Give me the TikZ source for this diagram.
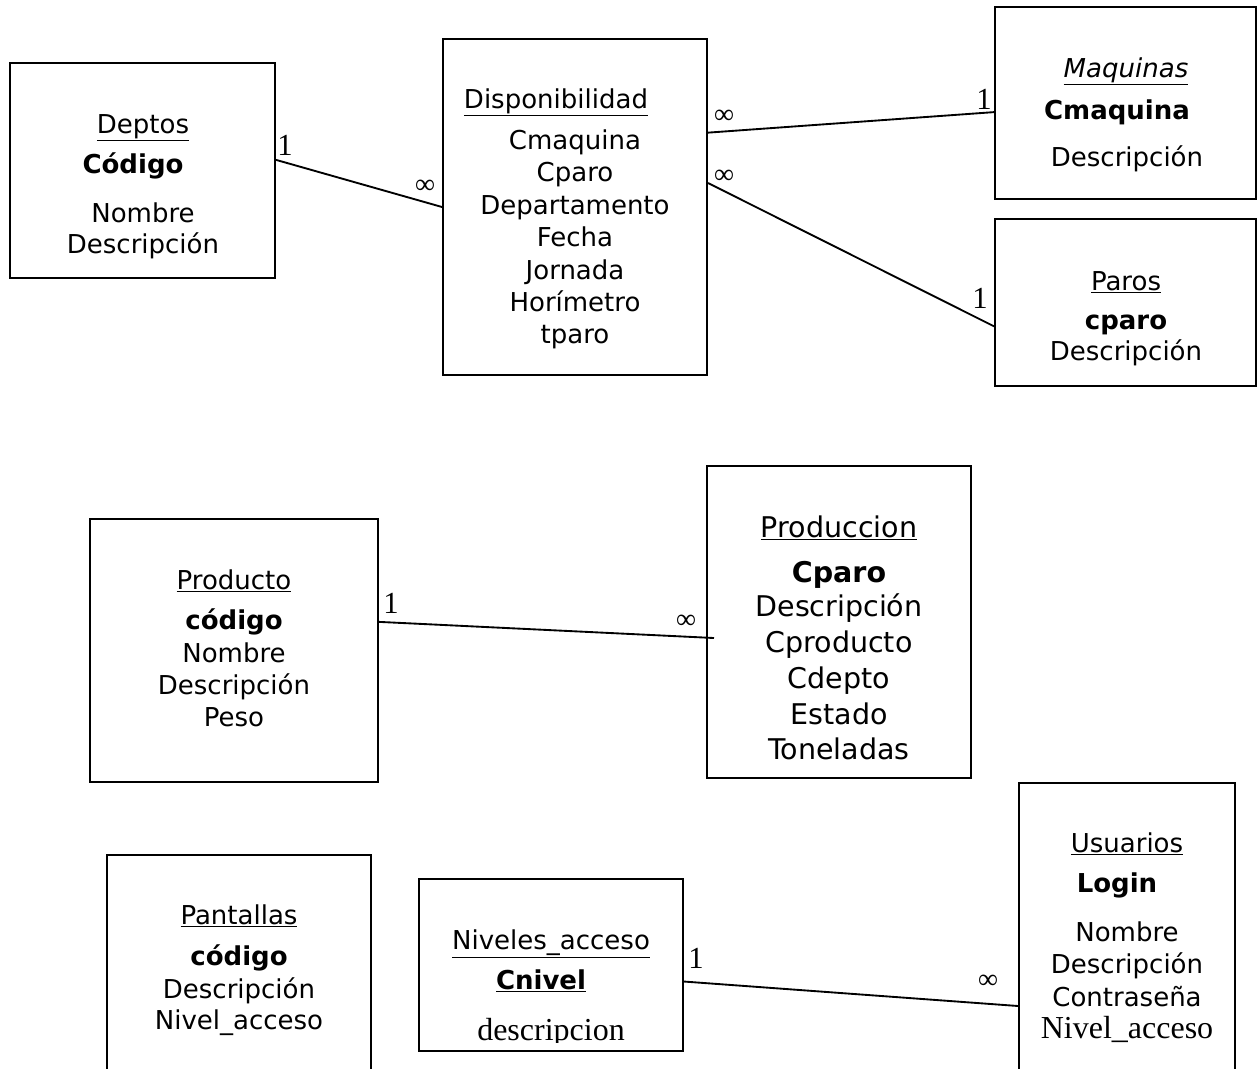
\documentclass[tikz,border=0pt]{standalone}
\usepackage{fontspec}
\setmainfont{DejaVu Sans}
\newfontfamily\serifx{Liberation Serif}
\usetikzlibrary{fit,calc}
\tikzset{
  entity/.style={draw, line width=1.5pt, inner sep=0pt},
  t/.style={anchor=base, inner sep=0pt, font=\fontsize{19.5}{23}\selectfont},
  tb/.style={anchor=base, inner sep=0pt, font=\bfseries\fontsize{19.5}{23}\selectfont},
  tL/.style={anchor=base, inner sep=0pt, font=\fontsize{21.4}{25}\selectfont},
  tLb/.style={anchor=base, inner sep=0pt, font=\bfseries\fontsize{21.4}{25}\selectfont},
  ts/.style={anchor=base, inner sep=0pt, font=\serifx\fontsize{24}{28}\selectfont},
  card/.style={anchor=base, inner sep=0pt, font=\serifx\fontsize{23}{26}\selectfont},
  many/.style={anchor=base, inner sep=0pt, font=\serifx\fontsize{21}{24}\selectfont},
  link/.style={line width=1.4pt}
}
\begin{document}
\begin{tikzpicture}[x=0.75pt,y=-0.75pt]
\useasboundingbox (0,0) rectangle (1257,1068);
\clip (0,0) rectangle (1257,1068);

% boxes
\node[entity, fit={(10,63) (275,278)}] (deptos) {};
\node[entity, fit={(443,39) (707,375)}] (disp) {};
\node[entity, fit={(995,7) (1256,199)}] (maq) {};
\node[entity, fit={(995,219) (1256,386)}] (paros) {};
\node[entity, fit={(90,519) (378,782)}] (producto) {};
\node[entity, fit={(707,466) (971,778)}] (produccion) {};
\node[entity, fit={(107,855) (371,1090)}] (pantallas) {};
\node[entity, fit={(419,879) (683,1051)}] (niveles) {};
\node[entity, fit={(1019,783) (1235,1090)}] (usuarios) {};

% Deptos
\node[t] (dT) at (143,133) {\underline{Deptos}};
\node[tb] (d1) at (133,173) {Código};
\node[t] (d2) at (143,222) {Nombre};
\node[t] (d3) at (143,253) {Descripción};

% Disponibilidad
\node[t] (sT) at (556,108) {\underline{Disponibilidad}};
\node[t] (s1) at (575,149) {Cmaquina};
\node[t] (s2) at (575,181) {Cparo};
\node[t] (s3) at (575,214) {Departamento};
\node[t] (s4) at (575,246) {Fecha};
\node[t] (s5) at (575,279) {Jornada};
\node[t] (s6) at (575,311) {Horímetro};
\node[t] (s7) at (575,343) {tparo};

% Maquinas
\node[t] (mT) at (1126,77) {\underline{\itshape Maquinas}};
\node[tb] (m1) at (1117,119) {Cmaquina};
\node[t] (m2) at (1127,166) {Descripción};

% Paros
\node[t] (pT) at (1126,290) {\underline{Paros}};
\node[tb] (p1) at (1126,329) {cparo};
\node[t] (p2) at (1126,360) {Descripción};

% Producto
\node[t] (oT) at (234,589) {\underline{Producto}};
\node[tb] (o1) at (234,629) {código};
\node[t] (o2) at (234,662) {Nombre};
\node[t] (o3) at (234,694) {Descripción};
\node[t] (o4) at (234,726) {Peso};

% Produccion
\node[tL] (cT) at (839,537) {\underline{Produccion}};
\node[tLb] (c1) at (839,582) {Cparo};
\node[tL] (c2) at (839,616) {Descripción};
\node[tL] (c3) at (839,652) {Cproducto};
\node[tL] (c4) at (839,688) {Cdepto};
\node[tL] (c5) at (839,724) {Estado};
\node[tL] (c6) at (839,759) {Toneladas};

% Pantallas
\node[t] (aT) at (239,924) {\underline{Pantallas}};
\node[tb] (a1) at (239,965) {código};
\node[t] (a2) at (239,998) {Descripción};
\node[t] (a3) at (239,1029) {Nivel\_acceso};

% Niveles_acceso
\node[t] (nT) at (551,949) {\underline{Niveles\_acceso}};
\node[tb] (n1) at (541,989) {\underline{Cnivel}};
\begin{scope}
\clip (419,990) rectangle (683,1042);
\node[ts] (n2) at (551,1040) {descripcion};
\end{scope}

% Usuarios
\node[t] (uT) at (1127,852) {\underline{Usuarios}};
\node[tb] (u1) at (1117,892) {Login};
\node[t] (u2) at (1127,941) {Nombre};
\node[t] (u3) at (1127,973) {Descripción};
\node[t] (u4) at (1127,1006) {Contraseña};
\node[ts] (u5) at (1127,1038) {Nivel\_acceso};

% connectors
\draw[link] ($(deptos.north east)!0.451!(deptos.south east)$) -- (disp.west);
\draw[link] ($(disp.north east)!0.28!(disp.south east)$) -- ($(maq.north west)!0.547!(maq.south west)$);
\draw[link] ($(disp.north east)!0.429!(disp.south east)$) -- ($(paros.north west)!0.641!(paros.south west)$);
\draw[link] ($(producto.north east)!0.392!(producto.south east)$) -- ($(produccion.north west)!0.551!(produccion.south west)+(8,0)$);
\draw[link] ($(niveles.north east)!0.595!(niveles.south east)$) -- ($(usuarios.north west)+(0,224)$);

% cardinalities
\node[card] (k1) at (285,155) {1};
\node[many] (k2) at (425,193) {∞};
\node[many] (k3) at (724,123) {∞};
\node[card] (k4) at (984,109) {1};
\node[many] (k5) at (724,183) {∞};
\node[card] (k6) at (980,308) {1};
\node[card] (k7) at (391,613) {1};
\node[many] (k8) at (686,628) {∞};
\node[card] (k9) at (696,968) {1};
\node[many] (k10) at (988,988) {∞};
\end{tikzpicture}
\end{document}
